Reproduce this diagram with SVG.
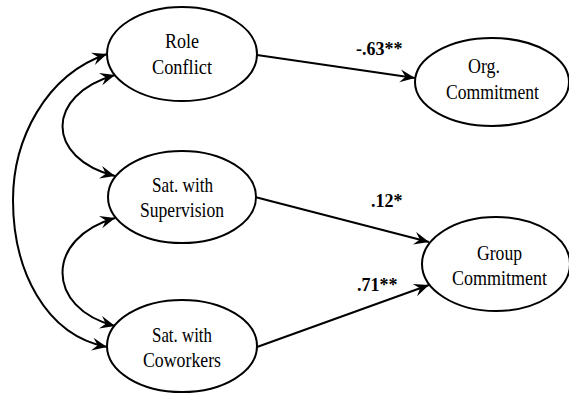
<svg xmlns="http://www.w3.org/2000/svg" width="569" height="394" viewBox="0 0 569 394">
<defs>
<marker id="ah" viewBox="-15 -7 17 14" refX="0" refY="0" markerWidth="17" markerHeight="14" markerUnits="userSpaceOnUse" orient="auto-start-reverse">
<path d="M-15,-6.5 L0,0 L-15,6.5 L-9.5,0 z" fill="#000"/>
</marker>
<style>
.node ellipse{fill:#fff;stroke:#000;stroke-width:2}
.node text{font-family:"Liberation Serif","Times New Roman",serif;font-size:21px;fill:#000}
.conn path{fill:none;stroke:#000;stroke-width:2}
.lbl{font-family:"Liberation Serif","Times New Roman",serif;font-size:18px;font-weight:bold;fill:#000}
</style>
</defs>
<rect width="569" height="394" fill="#fff"/>
<g id="connectors" class="conn">
<path d="M107,54 C45,75 13,140 13,200 C13,270 45,335 107,347" marker-start="url(#ah)" marker-end="url(#ah)"/>
<path d="M115,75 C45,95 45,158 115,176" marker-start="url(#ah)" marker-end="url(#ah)"/>
<path d="M115,218 C45,238 45,308 115,326" marker-start="url(#ah)" marker-end="url(#ah)"/>
<path d="M257,55 L415,78" marker-end="url(#ah)"/>
<path d="M255,197 L429,242" marker-end="url(#ah)"/>
<path d="M257,347 L429,285" marker-end="url(#ah)"/>
</g>
<g id="role-conflict" class="node">
<ellipse cx="182" cy="54" rx="75" ry="47"/>
<text x="165" y="48" textLength="34" lengthAdjust="spacingAndGlyphs">Role</text>
<text x="152" y="74" textLength="60" lengthAdjust="spacingAndGlyphs">Conflict</text>
</g>
<g id="sat-supervision" class="node">
<ellipse cx="182" cy="197" rx="74" ry="46"/>
<text x="152" y="192" textLength="61" lengthAdjust="spacingAndGlyphs">Sat. with</text>
<text x="140" y="217" textLength="84" lengthAdjust="spacingAndGlyphs">Supervision</text>
</g>
<g id="sat-coworkers" class="node">
<ellipse cx="182" cy="346" rx="75" ry="46"/>
<text x="152" y="342" textLength="60" lengthAdjust="spacingAndGlyphs">Sat. with</text>
<text x="143" y="367" textLength="78" lengthAdjust="spacingAndGlyphs">Coworkers</text>
</g>
<g id="org-commitment" class="node">
<ellipse cx="492" cy="82" rx="77" ry="44"/>
<text x="468" y="73" textLength="32" lengthAdjust="spacingAndGlyphs">Org.</text>
<text x="446" y="99" textLength="93" lengthAdjust="spacingAndGlyphs">Commitment</text>
</g>
<g id="group-commitment" class="node">
<ellipse cx="496" cy="264" rx="74" ry="47"/>
<text x="477" y="260" textLength="45" lengthAdjust="spacingAndGlyphs">Group</text>
<text x="452" y="285" textLength="95" lengthAdjust="spacingAndGlyphs">Commitment</text>
</g>
<g id="labels">
<text class="lbl" x="356" y="55">-.63**</text>
<text class="lbl" x="371" y="207">.12*</text>
<text class="lbl" x="357" y="291">.71**</text>
</g>
</svg>
